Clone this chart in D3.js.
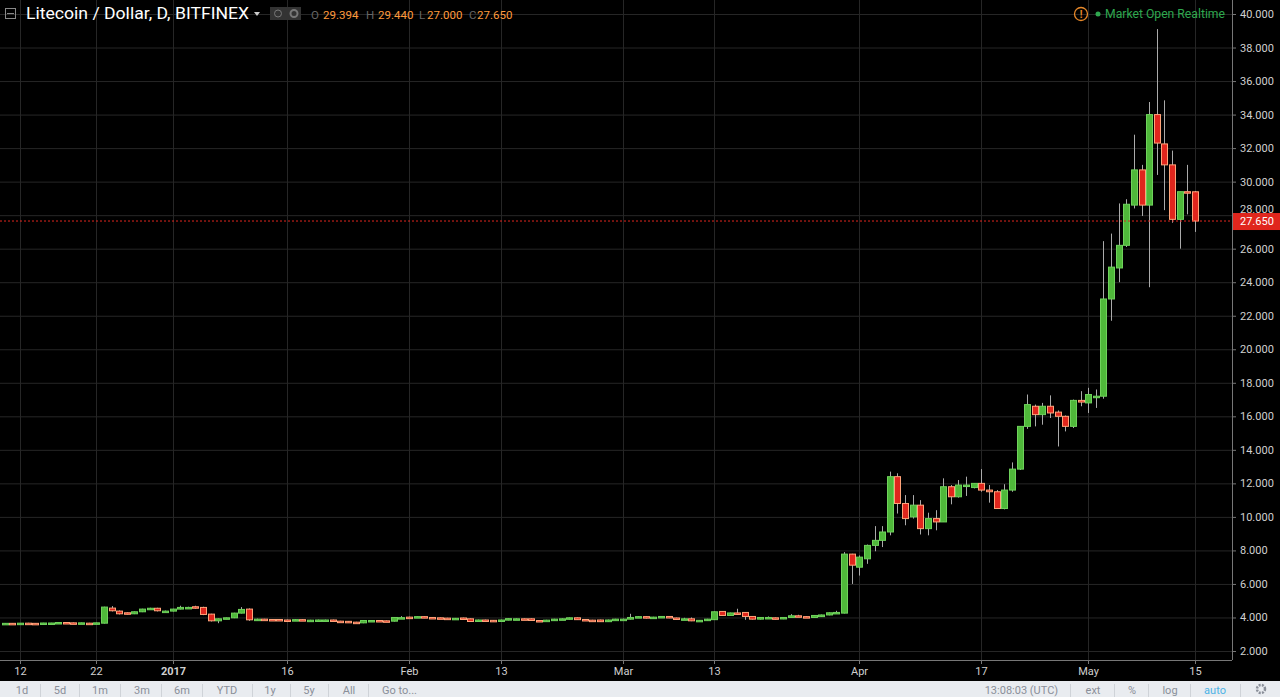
<!DOCTYPE html>
<html><head><meta charset="utf-8">
<script src="https://cdn.jsdelivr.net/npm/d3@7"></script>
<style>body{margin:0;background:#000;overflow:hidden}svg{display:block;font-family:Roboto,"Open Sans",sans-serif}</style>
</head><body><svg id="c" width="1280" height="697"></svg>
<script>
// first candle date; one row per consecutive day
const startDate = "2016-12-10";
const ohlc = [
[3.64,3.67,3.62,3.65],[3.65,3.67,3.63,3.64],[3.64,3.67,3.62,3.66],[3.66,3.68,3.64,3.65],[3.65,3.67,3.63,3.64],
[3.64,3.68,3.63,3.67],[3.65,3.68,3.63,3.67],[3.67,3.71,3.65,3.70],[3.70,3.72,3.67,3.68],[3.68,3.70,3.65,3.67],
[3.65,3.69,3.64,3.68],[3.66,3.68,3.62,3.64],[3.64,3.69,3.62,3.68],[3.66,4.64,3.64,4.62],[4.56,4.68,4.36,4.40],
[4.38,4.42,4.18,4.22],[4.28,4.30,4.18,4.22],[4.22,4.36,4.20,4.34],[4.34,4.52,4.32,4.50],[4.55,4.58,4.50,4.55],
[4.55,4.58,4.36,4.40],[4.38,4.41,4.34,4.38],[4.38,4.52,4.36,4.50],[4.50,4.70,4.48,4.60],[4.60,4.64,4.57,4.60],
[4.64,4.70,4.52,4.56],[4.60,4.64,4.14,4.18],[4.20,4.22,3.76,3.80],[3.80,3.94,3.66,3.92],[3.92,3.99,3.90,3.98],
[3.98,4.28,3.96,4.26],[4.26,4.62,4.24,4.48],[4.50,4.54,3.80,3.86],[3.85,3.93,3.82,3.90],[3.90,3.92,3.85,3.87],
[3.88,3.90,3.85,3.87],[3.88,3.90,3.83,3.85],[3.85,3.87,3.80,3.83],[3.82,3.89,3.80,3.87],[3.87,3.89,3.82,3.83],
[3.84,3.86,3.82,3.84],[3.83,3.87,3.81,3.85],[3.85,3.87,3.83,3.85],[3.85,3.87,3.76,3.78],[3.78,3.80,3.74,3.76],
[3.77,3.79,3.68,3.70],[3.72,3.74,3.66,3.68],[3.68,3.84,3.66,3.82],[3.82,3.84,3.80,3.82],[3.82,3.84,3.78,3.80],
[3.80,3.82,3.76,3.78],[3.78,4.02,3.76,4.00],[3.98,4.08,3.96,3.99],[4.02,4.05,3.99,4.01],[4.00,4.06,3.98,4.05],
[4.05,4.07,3.96,3.98],[4.00,4.02,3.95,3.97],[3.98,4.00,3.93,3.95],[3.96,3.98,3.90,3.92],[3.93,3.97,3.91,3.95],
[3.97,3.99,3.90,3.92],[3.92,3.94,3.74,3.76],[3.76,3.87,3.74,3.85],[3.85,3.87,3.81,3.83],[3.83,3.85,3.74,3.76],
[3.76,3.87,3.74,3.85],[3.85,3.95,3.83,3.93],[3.91,3.94,3.90,3.92],[3.92,3.94,3.88,3.90],[3.92,3.94,3.80,3.82],
[3.82,3.84,3.76,3.78],[3.80,3.86,3.78,3.84],[3.84,3.92,3.82,3.90],[3.90,3.94,3.88,3.92],[3.90,4.00,3.88,3.98],
[3.98,4.00,3.85,3.87],[3.88,3.90,3.81,3.83],[3.84,3.86,3.80,3.82],[3.85,3.87,3.73,3.75],[3.75,3.87,3.73,3.85],
[3.85,3.92,3.83,3.90],[3.90,3.93,3.87,3.90],[3.90,4.22,3.88,4.00],[4.00,4.08,3.98,4.05],[4.05,4.07,3.94,3.96],[3.96,4.04,3.94,4.02],
[4.02,4.08,4.00,4.06],[4.06,4.08,3.96,3.98],[3.97,3.99,3.88,3.90],[3.90,3.98,3.88,3.92],[3.92,4.00,3.78,3.80],
[3.80,3.85,3.78,3.83],[3.82,3.92,3.80,3.90],[3.87,4.36,3.85,4.34],[4.36,4.38,4.10,4.12],[4.12,4.29,4.10,4.27],
[4.27,4.52,4.16,4.18],[4.30,4.32,3.86,4.06],[4.06,4.08,3.88,3.90],[3.90,4.02,3.88,4.00],[4.00,4.06,3.98,4.00],
[3.98,4.00,3.88,3.92],[3.92,4.02,3.90,4.00],[4.00,4.20,3.98,4.10],[4.10,4.16,4.03,4.05],[4.05,4.07,3.98,4.00],
[4.00,4.14,3.98,4.12],[4.05,4.17,4.03,4.15],[4.15,4.30,4.13,4.28],[4.24,4.40,4.22,4.30],[4.26,7.90,4.24,7.78],
[7.78,7.80,6.00,7.12],[7.00,7.70,6.50,7.60],[7.50,8.35,7.20,8.30],[8.30,9.45,7.95,8.60],[8.60,9.45,8.20,9.10],
[9.10,12.70,8.90,12.40],[12.40,12.60,10.20,10.80],[10.80,11.30,9.50,9.90],[10.00,11.30,9.90,10.70],[10.70,11.00,8.95,9.30],
[9.30,10.25,8.90,9.90],[9.90,10.40,9.20,9.70],[9.70,12.30,9.70,11.80],[11.80,11.90,10.75,11.20],[11.20,12.20,11.15,11.90],
[11.90,12.40,11.25,11.90],[11.75,12.00,11.70,12.00],[12.00,12.85,11.50,11.60],[11.60,11.90,10.85,11.50],[11.50,11.60,10.50,10.50],
[10.50,11.95,10.45,11.60],[11.60,13.25,11.50,12.85],[12.85,15.40,12.80,15.40],[15.40,17.30,15.25,16.70],[16.60,16.70,15.40,16.10],
[16.10,16.80,15.50,16.60],[16.60,17.25,15.90,16.20],[16.25,16.35,14.20,16.00],[16.00,16.05,15.10,15.40],[15.40,17.00,15.30,16.95],
[16.95,17.50,16.60,16.85],[16.80,17.70,16.20,17.30],[17.20,17.60,16.50,17.20],[17.20,26.45,17.05,23.00],[23.00,26.90,21.70,24.90],
[24.85,28.70,24.00,26.20],[26.20,28.95,26.10,28.65],[28.60,32.80,28.40,30.70],[30.70,31.00,27.95,28.60],[28.60,34.75,23.70,34.00],
[34.00,39.10,30.40,32.30],[32.25,34.85,28.30,31.00],[31.00,31.85,27.55,27.75],[27.75,29.40,26.00,29.40],[29.40,31.00,28.05,29.35],
[29.394,29.44,27.00,27.65]
];
const lastPrice = 27.650;
const yTicks = [2,4,6,8,10,12,14,16,18,20,22,24,26,28,30,32,34,36,38,40];
const xTickDates = ["2016-12-12","2016-12-22","2017-01-01","2017-01-16","2017-02-01","2017-02-13","2017-03-01","2017-03-13","2017-04-01","2017-04-17","2017-05-01","2017-05-15"];
const xTickLabels = ["12","22","2017","16","Feb","13","Mar","13","Apr","17","May","15"];
const leftButtons = ["1d","5d","1m","3m","6m","YTD","1y","5y","All","Go to..."];

const svg = d3.select("#c");
const parse = d3.utcParse("%Y-%m-%d");
const d0 = parse(startDate);
const data = ohlc.map((r,i)=>({date:d3.utcDay.offset(d0,i),o:r[0],h:r[1],l:r[2],c:r[3]}));
const axisX = 1232, plotBottom = 660;
const x = d3.scaleUtc().domain([parse("2016-12-12"),parse("2017-05-15")]).range([20,1195]);
const y = d3.scaleLinear().domain([2,40]).range([651,14]);
const grid = "#262626";

svg.append("rect").attr("width",1280).attr("height",697).attr("fill","#000");
const g = svg.append("g");
g.selectAll(".hg").data(yTicks).join("line").attr("x1",0).attr("x2",axisX).attr("y1",d=>y(d)+.5).attr("y2",d=>y(d)+.5).attr("stroke",grid);
g.selectAll(".vg").data(xTickDates).join("line").attr("x1",d=>Math.round(x(parse(d)))+.5).attr("x2",d=>Math.round(x(parse(d)))+.5).attr("y1",0).attr("y2",plotBottom).attr("stroke",grid);

const cw = 5;
const cg = svg.append("g");
data.forEach(d=>{
  const cx = Math.round(x(d.date))+.5;
  const up = d.c >= d.o;
  cg.append("line").attr("x1",cx).attr("x2",cx).attr("y1",y(d.h)).attr("y2",y(d.l)).attr("stroke","#aaa");
  const top = y(Math.max(d.o,d.c)), bot = y(Math.min(d.o,d.c));
  cg.append("rect").attr("x",cx-cw/2-.5).attr("y",top).attr("width",cw+1).attr("height",Math.max(1.5,bot-top))
    .attr("fill",up?"#4fb83a":"#e0261d").attr("stroke",up?"#6fd25c":"#ffa47a").attr("stroke-width",1);
});

svg.append("line").attr("x1",0).attr("x2",axisX).attr("y1",y(lastPrice)).attr("y2",y(lastPrice)).attr("stroke","#e0261d").attr("stroke-dasharray","2,2");

svg.append("line").attr("x1",axisX+.5).attr("x2",axisX+.5).attr("y1",0).attr("y2",plotBottom).attr("stroke","#777");
svg.append("line").attr("x1",0).attr("x2",axisX).attr("y1",plotBottom+.5).attr("y2",plotBottom+.5).attr("stroke","#777");
const fmt = d3.format(".3f");
const ya = svg.append("g");
yTicks.forEach(t=>{
  ya.append("line").attr("x1",axisX).attr("x2",axisX+4).attr("y1",y(t)+.5).attr("y2",y(t)+.5).attr("stroke","#777");
  ya.append("text").attr("x",axisX+8).attr("y",t===28?y(t)-2:y(t)+4).attr("fill","#d0d0d0").attr("font-size",11).text(fmt(t));
});
svg.append("rect").attr("x",axisX+1).attr("y",y(lastPrice)-8).attr("width",47).attr("height",17).attr("fill","#e0261d");
svg.append("text").attr("x",axisX+8).attr("y",y(lastPrice)+4).attr("fill","#fff").attr("font-size",11).text(fmt(lastPrice));

const xa = svg.append("g");
xTickDates.forEach((d,i)=>{
  const px = Math.round(x(parse(d)))+.5;
  xa.append("line").attr("x1",px).attr("x2",px).attr("y1",plotBottom).attr("y2",plotBottom+4).attr("stroke","#777");
  xa.append("text").attr("x",px).attr("y",675).attr("text-anchor","middle").attr("fill","#d0d0d0").attr("font-size",11)
    .attr("font-weight",xTickLabels[i]==="2017"?"bold":"normal").text(xTickLabels[i]);
});

svg.append("rect").attr("x",0).attr("y",681).attr("width",1280).attr("height",16).attr("fill","#e9ecf0");
const lbx = [22,60,100,142,182,227,270,309,349,382];
const sepL = [40,79,120,161,202,252,290,328,368];
leftButtons.forEach((b,i)=>svg.append("text").attr("x",lbx[i]).attr("y",694).attr("text-anchor",i===9?"start":"middle").attr("fill","#8a8f99").attr("font-size",11).text(b));
sepL.forEach(s=>svg.append("line").attr("x1",s+.5).attr("x2",s+.5).attr("y1",684).attr("y2",697).attr("stroke","#cfd3d8"));
[1070,1114,1148,1190,1240].forEach(s=>svg.append("line").attr("x1",s+.5).attr("x2",s+.5).attr("y1",684).attr("y2",697).attr("stroke","#cfd3d8"));
svg.append("text").attr("x",1058).attr("y",694).attr("text-anchor","end").attr("fill","#8a8f99").attr("font-size",11).text("13:08:03 (UTC)");
svg.append("text").attr("x",1093).attr("y",694).attr("text-anchor","middle").attr("fill","#8a8f99").attr("font-size",11).text("ext");
svg.append("text").attr("x",1132).attr("y",694).attr("text-anchor","middle").attr("fill","#8a8f99").attr("font-size",11).text("%");
svg.append("text").attr("x",1170).attr("y",694).attr("text-anchor","middle").attr("fill","#8a8f99").attr("font-size",11).text("log");
svg.append("text").attr("x",1215).attr("y",694).attr("text-anchor","middle").attr("fill","#4db3e6").attr("font-size",11).text("auto");
svg.append("circle").attr("cx",1261).attr("cy",689).attr("r",4).attr("fill","none").attr("stroke","#8a8f99").attr("stroke-width",2.5).attr("stroke-dasharray","2,1.2");

svg.append("rect").attr("x",5.5).attr("y",8.5).attr("width",10).attr("height",10).attr("fill","none").attr("stroke","#888");
svg.append("line").attr("x1",7).attr("x2",14).attr("y1",13.5).attr("y2",13.5).attr("stroke","#888");
svg.append("text").attr("x",26).attr("y",19).attr("fill","#fff").attr("font-size",16).attr("textLength",223).attr("lengthAdjust","spacingAndGlyphs").text("Litecoin / Dollar, D, BITFINEX");
svg.append("path").attr("d","M254,12 l6,0 l-3,4 z").attr("fill","#ccc");
svg.append("rect").attr("x",270).attr("y",7).attr("width",31).attr("height",13).attr("fill","#333");
svg.append("circle").attr("cx",278).attr("cy",13.5).attr("r",3.5).attr("fill","none").attr("stroke","#777");
svg.append("circle").attr("cx",294).attr("cy",13.5).attr("r",3.5).attr("fill","none").attr("stroke","#777").attr("stroke-width",2);
const hdr = [["O",311],["29.394",323],["H",366],["29.440",378],["L",419],["27.000",427],["C",469],["27.650",477]];
hdr.forEach((h,i)=>svg.append("text").attr("x",h[1]).attr("y",19).attr("fill",i%2?"#ff9a3c":"#666").attr("font-size",11.5).text(h[0]));
svg.append("circle").attr("cx",1081).attr("cy",14).attr("r",6.5).attr("fill","none").attr("stroke","#e8892a").attr("stroke-width",1.3);
svg.append("text").attr("x",1081).attr("y",18).attr("text-anchor","middle").attr("fill","#e8892a").attr("font-size",10).attr("font-weight","bold").text("!");
svg.append("circle").attr("cx",1098).attr("cy",14).attr("r",2.5).attr("fill","#2fa84f");
svg.append("text").attr("x",1105).attr("y",18).attr("fill","#2fa84f").attr("font-size",12).attr("textLength",120).attr("lengthAdjust","spacingAndGlyphs").text("Market Open  Realtime");
</script></body></html>
